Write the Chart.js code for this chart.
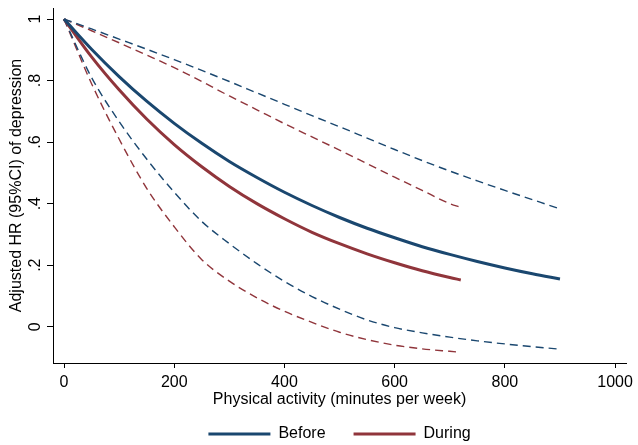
<!DOCTYPE html>
<html>
<head>
<meta charset="utf-8">
<script src="https://cdn.jsdelivr.net/npm/chart.js@4.4.0/dist/chart.umd.min.js"></script>
<style>
  html, body { margin: 0; padding: 0; background: #fff; }
</style>
</head>
<body>
<canvas id="chart" width="638" height="445"></canvas>
<script>
// minutes per week
const xBefore = [0, 50, 100, 150, 200, 250, 300, 350, 400, 450, 500, 550, 600, 650, 700, 750, 800, 850, 900];
const xDuring = [0, 50, 100, 150, 200, 250, 300, 350, 400, 450, 500, 550, 600, 650, 700, 720];

// adjusted HR and 95% CI
const hrBefore = [1, 0.902, 0.813, 0.733, 0.661, 0.596, 0.537, 0.485, 0.437, 0.394, 0.355, 0.320, 0.289, 0.260, 0.235, 0.212, 0.191, 0.172, 0.155];
const upBefore = [1, 0.968, 0.935, 0.902, 0.868, 0.833, 0.797, 0.760, 0.723, 0.686, 0.650, 0.613, 0.576, 0.540, 0.506, 0.474, 0.443, 0.413, 0.383];
const loBefore = [1, 0.81, 0.667, 0.545, 0.437, 0.342, 0.27, 0.205, 0.147, 0.098, 0.057, 0.022, -0.003, -0.02, -0.034, -0.046, -0.056, -0.065, -0.073];

const hrDuring = [1, 0.877, 0.770, 0.675, 0.592, 0.520, 0.456, 0.400, 0.351, 0.307, 0.270, 0.237, 0.208, 0.182, 0.160, 0.152];
const upDuring = [1, 0.962, 0.923, 0.883, 0.842, 0.797, 0.750, 0.705, 0.660, 0.617, 0.574, 0.530, 0.486, 0.443, 0.400, 0.388];
const loDuring = [1, 0.79, 0.61, 0.45, 0.325, 0.218, 0.148, 0.094, 0.05, 0.014, -0.018, -0.042, -0.06, -0.072, -0.08, -0.083];

const xTicks = [0, 200, 400, 600, 800, 1000];
const yTicks = [0, 0.2, 0.4, 0.6, 0.8, 1];
const yTickText = ['0', '.2', '.4', '.6', '.8', '1'];

const navy = 'rgb(26,71,111)';
const maroon = 'rgb(144,53,59)';
const FONT = '"Liberation Sans", Arial, Helvetica, sans-serif';
const FS = 16;

Chart.defaults.font.family = FONT;
Chart.defaults.font.size = FS;
Chart.defaults.color = '#000';

const pts = (xs, ys) => xs.map((x, i) => ({ x: x, y: ys[i] }));

function solid(label, xs, ys, color) {
    return {
        label: label,
        data: pts(xs, ys),
        borderColor: color,
        backgroundColor: color,
        borderWidth: 3,
        pointRadius: 0,
        cubicInterpolationMode: 'monotone',
        fill: false
    };
}

function dashed(label, xs, ys, color) {
    return {
        label: label,
        data: pts(xs, ys),
        borderColor: color,
        backgroundColor: color,
        borderWidth: 1.4,
        borderDash: [8, 5],
        pointRadius: 0,
        cubicInterpolationMode: 'monotone',
        fill: false
    };
}

// rotated y tick labels (Chart.js only rotates x labels)
const yTickLabels = {
    id: 'yTickLabels',
    afterDraw(chart) {
        const { ctx } = chart;
        const y = chart.scales.y;
        ctx.save();
        ctx.font = FS + 'px ' + FONT;
        ctx.fillStyle = '#000';
        ctx.textAlign = 'center';
        ctx.textBaseline = 'middle';
        yTicks.forEach((v, i) => {
            ctx.save();
            ctx.translate(y.right - 17, y.getPixelForValue(v));
            ctx.rotate(-Math.PI / 2);
            ctx.fillText(yTickText[i], 0, 0);
            ctx.restore();
        });
        ctx.restore();
    }
};

new Chart(document.getElementById('chart'), {
    type: 'line',
    data: {
        datasets: [
            solid('Before', xBefore, hrBefore, navy),
            solid('During', xDuring, hrDuring, maroon),
            dashed('Before upper', xBefore, upBefore, navy),
            dashed('Before lower', xBefore, loBefore, navy),
            dashed('During upper', xDuring, upDuring, maroon),
            dashed('During lower', xDuring, loDuring, maroon)
        ]
    },
    options: {
        responsive: false,
        animation: false,
        devicePixelRatio: 1,
        layout: { padding: { top: 8, right: 6, left: 0, bottom: -7 } },
        plugins: {
            tooltip: { enabled: false },
            legend: {
                position: 'bottom',
                fullSize: false,
                labels: {
                    boxWidth: 62,
                    boxHeight: 3,
                    padding: 28,
                    font: { size: FS },
                    color: '#000',
                    generateLabels(chart) {
                        return Chart.defaults.plugins.legend.labels.generateLabels(chart)
                            .filter(it => it.datasetIndex < 2)
                            .map(it => Object.assign(it, { lineWidth: 0, fillStyle: it.strokeStyle, lineDash: [] }));
                    }
                }
            }
        },
        scales: {
            x: {
                type: 'linear',
                min: -20,
                max: 1020,
                afterBuildTicks: s => { s.ticks = xTicks.map(v => ({ value: v })); },
                afterFit: s => { s.height = 35; },
                grid: { drawOnChartArea: false, drawTicks: true, tickLength: 5, color: '#000' },
                border: { display: true, color: '#000', width: 1 },
                ticks: { color: '#000', padding: 5, maxRotation: 0, callback: v => String(v) },
                title: {
                    display: true,
                    text: 'Physical activity (minutes per week)',
                    color: '#000',
                    padding: { top: 0, bottom: -11.6 }
                }
            },
            y: {
                type: 'linear',
                min: -0.118,
                max: 1.036,
                afterBuildTicks: s => { s.ticks = yTicks.map(v => ({ value: v })); },
                afterFit: s => { s.width = 53; },
                grid: { drawOnChartArea: false, drawTicks: true, tickLength: 6, color: '#000' },
                border: { display: true, color: '#000', width: 1 },
                ticks: { display: false },
                title: {
                    display: true,
                    text: 'Adjusted HR (95%CI) of depression',
                    color: '#000',
                    padding: { top: 7, bottom: 0 }
                }
            }
        }
    },
    plugins: [yTickLabels]
});
</script>
</body>
</html>
